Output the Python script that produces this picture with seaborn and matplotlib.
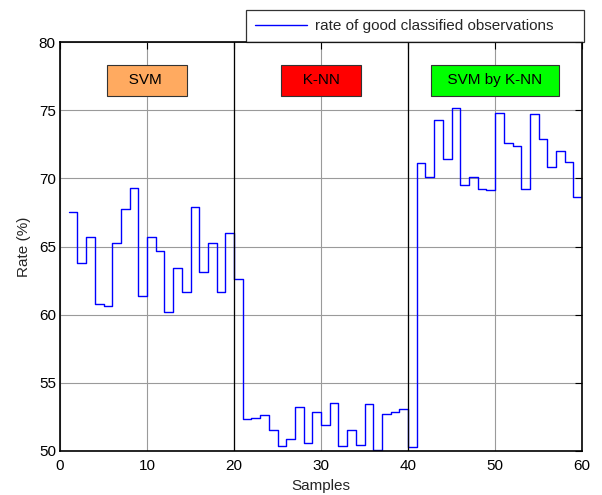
"""Step chart of classification rate for SVM, K-NN and SVM by K-NN."""

import matplotlib

matplotlib.use("Agg")
import matplotlib.pyplot as plt
import numpy as np
import pandas as pd
import seaborn as sns


samples = np.arange(1, 61)
rate = [
    67.55, 63.77, 65.72, 60.81, 60.64, 65.28, 67.73, 69.29, 61.34, 65.70,
    64.65, 60.17, 63.42, 61.66, 67.90, 63.15, 65.28, 61.66, 65.99, 62.63,
    52.34, 52.44, 52.63, 51.56, 50.34, 50.85, 53.24, 50.61, 52.88, 51.93,
    53.51, 50.34, 51.56, 50.46, 53.41, 50.07, 52.73, 52.88, 53.05, 50.32,
    71.14, 70.10, 74.27, 71.41, 75.17, 69.49, 70.10, 69.22, 69.15, 74.81,
    72.60, 72.38, 69.22, 74.71, 72.89, 70.83, 71.99, 71.19, 68.64, 70.00,
]
boundaries = [20, 40]
method_names = ["   SVM    ", "   K-NN   ", "  SVM by K-NN  "]
method_centers = [10, 30, 50]
method_colors = ["#ffaa60", "#ff0000", "#00ff00"]
x_ticks = [0, 10, 20, 30, 40, 50, 60]
y_ticks = [50, 55, 60, 65, 70, 75, 80]

df = pd.DataFrame({"sample": samples, "rate": rate})

sns.set_theme(style="white")
plt.rcParams["font.family"] = ["Liberation Sans", "DejaVu Sans"]

fig = plt.figure(figsize=(6.02, 4.95), dpi=100)
ax = fig.add_axes([0.0997, 0.089, 0.8673, 0.826])

sns.lineplot(
    data=df, x="sample", y="rate", ax=ax, color="#0000ff", linewidth=1.0,
    drawstyle="steps-post", label="rate of good classified observations     ",
)

for b in boundaries:
    ax.axvline(b, color="black", linewidth=0.9, zorder=3)

for name, cx, col in zip(method_names, method_centers, method_colors):
    ax.text(
        cx, 77.2, name, ha="center", va="center", fontsize=11, color="black",
        bbox=dict(boxstyle="square,pad=0.56", fc=col, ec="#333333", lw=0.8),
        zorder=5,
    )

ax.set_xlim(0, 60)
ax.set_ylim(50, 80)
ax.set_xticks(x_ticks)
ax.set_yticks(y_ticks)
ax.grid(True, color="#9a9a9a", linewidth=0.8)
ax.tick_params(direction="in", length=5, width=0.8, top=True, right=True,
               labelsize=11, colors="black", pad=3)
ax.tick_params(axis="x", pad=6)
ax.set_xlabel("Samples", fontsize=11, labelpad=4)
ax.set_ylabel("Rate (%)", fontsize=11, labelpad=6)
for spine in ax.spines.values():
    spine.set_color("black")
    spine.set_linewidth(1.2)

leg = ax.legend(
    loc="lower right", bbox_to_anchor=(1.003, 1.0), fontsize=11, frameon=True,
    fancybox=False, edgecolor="black", handlelength=3.4, borderpad=0.6,
    borderaxespad=0.0, handletextpad=0.5,
)
leg.get_frame().set_linewidth(0.9)
leg.get_lines()[0].set_linewidth(1.0)

fig.savefig("out.png", dpi=100, facecolor="white")
